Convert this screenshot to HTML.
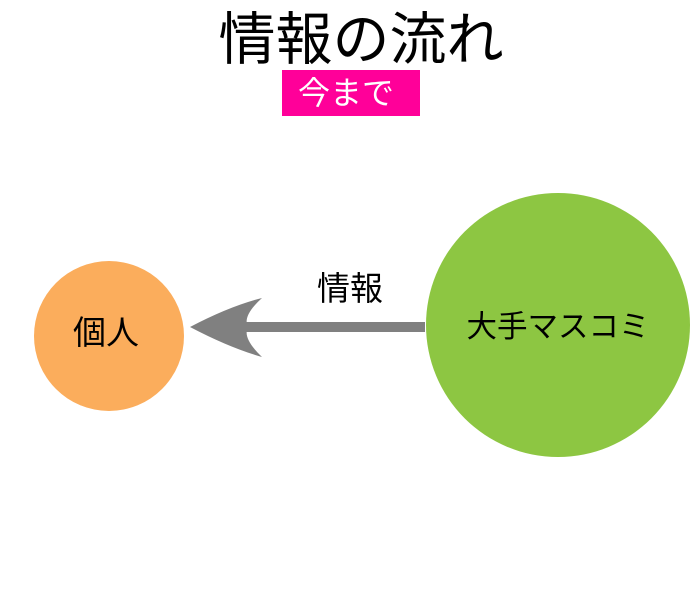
<!DOCTYPE html>
<html><head><meta charset="utf-8"><style>
body{margin:0;width:700px;height:600px;background:#fff;overflow:hidden}
</style></head><body>
<svg width="700" height="600" xmlns="http://www.w3.org/2000/svg" style="position:absolute;left:0;top:0">
<text x="361" y="59" font-size="57" text-anchor="middle" font-family="Liberation Sans, Noto Sans CJK JP, sans-serif" fill="#000">情報の流れ</text>
<rect x="282" y="70" width="138" height="46" fill="#ff0099"/>
<text x="346" y="104" font-size="32" text-anchor="middle" font-family="Liberation Sans, Noto Sans CJK JP, sans-serif" fill="#fff">今まで</text>
<circle cx="109" cy="336" r="75" fill="#fbad5c"/>
<circle cx="558" cy="325" r="132" fill="#8dc642"/>
<rect x="245" y="322" width="180" height="10" fill="#808080"/>
<path d="M190 327 Q230 306 262 298 Q242 316 248 327 Q242 338 262 357 Q230 348 190 327 Z" fill="#808080"/>
<text x="350" y="300" font-size="33" text-anchor="middle" font-family="Liberation Sans, Noto Sans CJK JP, sans-serif" fill="#000">情報</text>
<text x="106" y="344" font-size="33" text-anchor="middle" font-family="Liberation Sans, Noto Sans CJK JP, sans-serif" fill="#000">個人</text>
<text x="558" y="337" font-size="30.5" text-anchor="middle" font-family="Liberation Sans, Noto Sans CJK JP, sans-serif" fill="#000">大手マスコミ</text>
</svg>
</body></html>
